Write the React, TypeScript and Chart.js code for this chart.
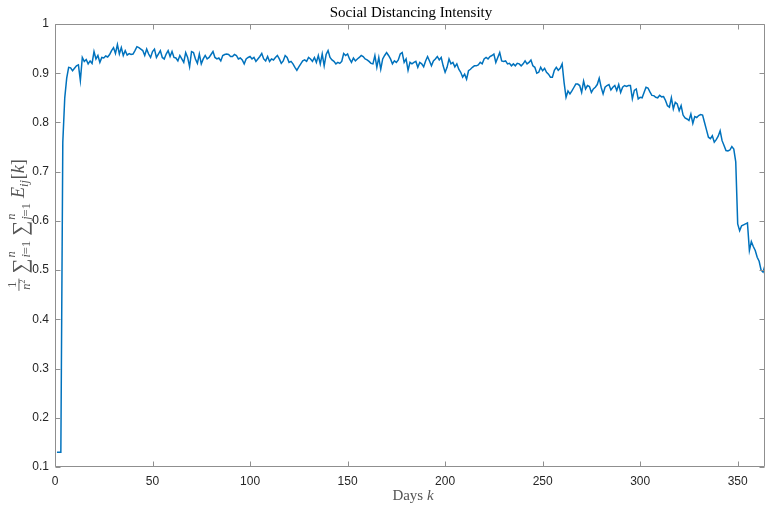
import React, { useEffect, useRef } from "react";
import { Chart, registerables } from "chart.js";

Chart.register(...registerables);

const TITLE = "Social Distancing Intensity";
const X_LABEL = "Days";
const X_LABEL_VAR = "k";
const X_TICKS = [0, 50, 100, 150, 200, 250, 300, 350];
const Y_TICKS = [0.1, 0.2, 0.3, 0.4, 0.5, 0.6, 0.7, 0.8, 0.9, 1];
const X_MIN = 0;
const X_MAX = 364;
const Y_MIN = 0.1;
const Y_MAX = 1;

// Daily social distancing intensity, day 1 .. day 364
const INTENSITY = [
  0.13, 0.13, 0.13, 0.76, 0.85, 0.89, 0.912, 0.911, 0.905, 0.91,
  0.915, 0.917, 0.885, 0.932, 0.924, 0.928, 0.919, 0.925, 0.92, 0.944,
  0.929, 0.936, 0.922, 0.932, 0.931, 0.935, 0.933, 0.938, 0.946, 0.952,
  0.94, 0.958, 0.939, 0.952, 0.936, 0.946, 0.937, 0.94, 0.938, 0.939,
  0.946, 0.954, 0.952, 0.949, 0.946, 0.936, 0.949, 0.939, 0.932, 0.944,
  0.949, 0.932, 0.939, 0.946, 0.932, 0.929, 0.939, 0.946, 0.934, 0.944,
  0.932, 0.931, 0.925, 0.936, 0.929, 0.922, 0.942, 0.932, 0.913, 0.944,
  0.942, 0.929, 0.92, 0.939, 0.919, 0.929, 0.936, 0.929, 0.932, 0.938,
  0.944, 0.932, 0.929, 0.931, 0.925, 0.936, 0.938, 0.939, 0.938, 0.934,
  0.934, 0.938, 0.936, 0.929, 0.931, 0.927, 0.919, 0.929, 0.932, 0.934,
  0.929, 0.932, 0.924, 0.929, 0.934, 0.94, 0.929, 0.925, 0.934, 0.924,
  0.929, 0.927, 0.932, 0.936, 0.929, 0.92, 0.925, 0.936, 0.932, 0.922,
  0.924, 0.919, 0.912, 0.906, 0.913, 0.919, 0.925, 0.927, 0.924, 0.932,
  0.929, 0.924, 0.932, 0.922, 0.936, 0.919, 0.939, 0.915, 0.938, 0.946,
  0.932, 0.927, 0.924, 0.919, 0.922, 0.92, 0.924, 0.94, 0.936, 0.939,
  0.929, 0.922, 0.931, 0.925, 0.929, 0.932, 0.936, 0.934, 0.929, 0.927,
  0.924, 0.92, 0.919, 0.936, 0.912, 0.932, 0.908, 0.929, 0.936, 0.942,
  0.936, 0.929, 0.919, 0.925, 0.922, 0.927, 0.939, 0.942, 0.922, 0.929,
  0.906, 0.922, 0.919, 0.922, 0.924, 0.912, 0.922, 0.919, 0.913, 0.925,
  0.934, 0.925, 0.915, 0.925, 0.929, 0.934, 0.927, 0.932, 0.915, 0.902,
  0.912, 0.929, 0.919, 0.922, 0.913, 0.919, 0.908, 0.902, 0.892, 0.898,
  0.888, 0.905, 0.908, 0.912, 0.915, 0.915, 0.917, 0.922, 0.919, 0.929,
  0.932, 0.929, 0.934, 0.936, 0.939, 0.922, 0.932, 0.942, 0.925, 0.924,
  0.925, 0.919, 0.92, 0.915, 0.919, 0.915, 0.92, 0.919, 0.915, 0.919,
  0.925, 0.919, 0.922, 0.927, 0.915, 0.912, 0.9, 0.902, 0.912, 0.905,
  0.91, 0.902, 0.898, 0.892, 0.892, 0.906, 0.912, 0.906, 0.91, 0.919,
  0.881, 0.851, 0.864, 0.858, 0.864, 0.871, 0.878, 0.878, 0.875, 0.861,
  0.884, 0.868, 0.875, 0.873, 0.861, 0.868, 0.8715, 0.877, 0.89, 0.8715,
  0.858, 0.8715, 0.875, 0.877, 0.866, 0.8715, 0.875, 0.865, 0.877, 0.861,
  0.8715, 0.875, 0.873, 0.875, 0.875, 0.848, 0.865, 0.868, 0.848, 0.851,
  0.85, 0.861, 0.8715, 0.87, 0.862, 0.855, 0.8545, 0.851, 0.85, 0.855,
  0.852, 0.8525, 0.8445, 0.834, 0.831, 0.85, 0.8275, 0.841, 0.8375, 0.824,
  0.834, 0.815, 0.809, 0.807, 0.804, 0.817, 0.798, 0.812, 0.81, 0.814,
  0.816, 0.815, 0.8, 0.785, 0.77, 0.767, 0.773, 0.76, 0.765, 0.772,
  0.783, 0.763, 0.753, 0.743, 0.742, 0.744, 0.751, 0.746, 0.72, 0.594,
  0.58, 0.59, 0.592, 0.594, 0.596, 0.54, 0.558, 0.548, 0.54, 0.526,
  0.518, 0.5, 0.496, 0.51,
];
const DAYS = INTENSITY.map((_, i) => i + 1);

const LINE_COLOR = "#0072BD";
const AXIS_COLOR = "#8f8f8f";
const TICK_TEXT = "#262626";
const LABEL_COLOR = "#555555";
const SERIF = '"Liberation Serif", "DejaVu Serif", serif';
const SANS = '"Liberation Sans", Arial, sans-serif';

type Box = { w: number; draw: (x: number) => void };

function drawYLabel(ctx: CanvasRenderingContext2D, cx: number, cy: number) {
  const B = 18;
  const S = 12.5;
  const font = (size: number, it: boolean) => `${it ? "italic " : ""}${size}px ${SERIF}`;
  const text = (str: string, size: number, it: boolean, dy: number): Box => {
    ctx.font = font(size, it);
    const w = ctx.measureText(str).width;
    return {
      w,
      draw: (x) => {
        ctx.font = font(size, it);
        ctx.fillText(str, x, dy);
      },
    };
  };
  const seq = (...boxes: Box[]): Box => ({
    w: boxes.reduce((a, b) => a + b.w, 0),
    draw: (x) => {
      let p = x;
      for (const b of boxes) {
        b.draw(p);
        p += b.w;
      }
    },
  });
  const stack = (a: Box, b: Box): Box => ({
    w: Math.max(a.w, b.w),
    draw: (x) => {
      a.draw(x);
      b.draw(x);
    },
  });
  const frac = (num: Box, den: Box, barY: number): Box => {
    const w = Math.max(num.w, den.w) + 2;
    return {
      w,
      draw: (x) => {
        num.draw(x + (w - num.w) / 2);
        den.draw(x + (w - den.w) / 2);
        ctx.fillRect(x, barY, w, 0.9);
      },
    };
  };
  const space = (w: number): Box => ({ w, draw: () => {} });

  const label = seq(
    frac(text("1", S, false, -8.5), seq(text("n", S, true, 6), text("2", 8, false, 1)), -5.5),
    space(5),
    text("\u2211", 21, false, 3),
    space(1),
    stack(text("n", S, true, -9.5), seq(text("i", S, true, 6), text("=1", S, false, 6))),
    space(5),
    text("\u2211", 21, false, 3),
    space(1),
    stack(text("n", S, true, -9.5), seq(text("j", S, true, 6), text("=1", S, false, 6))),
    space(5),
    text("E", B, true, 0),
    text("ij", S, true, 4),
    space(1),
    text("[", B, false, 0),
    text("k", B, true, 0),
    text("]", B, false, 0)
  );

  ctx.save();
  ctx.translate(cx, cy);
  ctx.rotate(-Math.PI / 2);
  ctx.fillStyle = LABEL_COLOR;
  ctx.textBaseline = "alphabetic";
  ctx.textAlign = "left";
  label.draw(-label.w / 2);
  ctx.restore();
}

const framePlugin = {
  id: "matlabFrame",
  afterDraw(chart: any) {
    const { ctx, chartArea, scales } = chart;
    const { left, right, top, bottom } = chartArea;
    const xs = scales.x;
    const ys = scales.y;
    ctx.save();
    ctx.strokeStyle = AXIS_COLOR;
    ctx.lineWidth = 1;
    const L = Math.round(left) + 0.5;
    const R = Math.round(right) - 0.5;
    const T = Math.round(top) + 0.5;
    const Bm = Math.round(bottom) - 0.5;
    ctx.beginPath();
    ctx.rect(L, T, R - L, Bm - T);
    const tl = 5;
    for (const v of X_TICKS) {
      const px = Math.round(xs.getPixelForValue(v)) + 0.5;
      ctx.moveTo(px, Bm);
      ctx.lineTo(px, Bm - tl);
      ctx.moveTo(px, T);
      ctx.lineTo(px, T + tl);
    }
    for (const v of Y_TICKS) {
      const py = Math.round(ys.getPixelForValue(v)) + 0.5;
      ctx.moveTo(L, py);
      ctx.lineTo(L + tl, py);
      ctx.moveTo(R, py);
      ctx.lineTo(R - tl, py);
    }
    ctx.stroke();

    // title
    ctx.fillStyle = "#000000";
    ctx.font = `15px ${SERIF}`;
    ctx.textAlign = "center";
    ctx.textBaseline = "middle";
    ctx.fillText(TITLE, (left + right) / 2 + 1, 13);

    // x label
    ctx.fillStyle = LABEL_COLOR;
    ctx.textAlign = "left";
    ctx.textBaseline = "middle";
    ctx.font = `15px ${SERIF}`;
    const w1 = ctx.measureText(X_LABEL + " ").width;
    ctx.font = `italic 15px ${SERIF}`;
    const w2 = ctx.measureText(X_LABEL_VAR).width;
    const x0 = (left + right) / 2 + 3 - (w1 + w2) / 2;
    ctx.font = `15px ${SERIF}`;
    ctx.fillText(X_LABEL + " ", x0, 496);
    ctx.font = `italic 15px ${SERIF}`;
    ctx.fillText(X_LABEL_VAR, x0 + w1, 496);

    drawYLabel(ctx, 24, 225);
    ctx.restore();
  },
};

export default function App() {
  const ref = useRef<HTMLCanvasElement | null>(null);
  useEffect(() => {
    if (!ref.current) return;
    const chart = new Chart(ref.current, {
      type: "line",
      data: {
        datasets: [
          {
            data: DAYS.map((d, i) => ({ x: d, y: INTENSITY[i] })),
            borderColor: LINE_COLOR,
            borderWidth: 1.5,
            pointRadius: 0,
            tension: 0,
            fill: false,
          },
        ],
      },
      options: {
        animation: false,
        responsive: false,
        devicePixelRatio: 1,
        layout: { padding: { left: 0, right: 1, top: 24, bottom: 0 } },
        plugins: { legend: { display: false }, tooltip: { enabled: false }, title: { display: false } },
        scales: {
          x: {
            type: "linear",
            min: X_MIN,
            max: X_MAX,
            grid: { display: false, drawTicks: false },
            border: { display: false },
            afterBuildTicks: (s: any) => {
              s.ticks = X_TICKS.map((v) => ({ value: v }));
            },
            afterFit: (s: any) => {
              s.height = 39;
            },
            ticks: {
              color: TICK_TEXT,
              font: { family: SANS, size: 12 },
              padding: 7,
              maxRotation: 0,
              autoSkip: false,
              callback: (v: any) => String(v),
            },
          },
          y: {
            type: "linear",
            min: Y_MIN,
            max: Y_MAX,
            grid: { display: false, drawTicks: false },
            border: { display: false },
            afterBuildTicks: (s: any) => {
              s.ticks = Y_TICKS.map((v) => ({ value: v }));
            },
            afterFit: (s: any) => {
              s.width = 55;
            },
            ticks: {
              color: TICK_TEXT,
              font: { family: SANS, size: 12 },
              padding: 6,
              autoSkip: false,
              callback: (v: any) => String(Number(Number(v).toFixed(1))),
            },
          },
        },
      },
      plugins: [framePlugin],
    });
    return () => chart.destroy();
  }, []);
  return (
    <div style={{ position: "fixed", left: 0, top: 0, width: 766, height: 506, background: "#fff" }}>
      <canvas ref={ref} width={766} height={506} style={{ width: 766, height: 506, display: "block" }} />
    </div>
  );
}
